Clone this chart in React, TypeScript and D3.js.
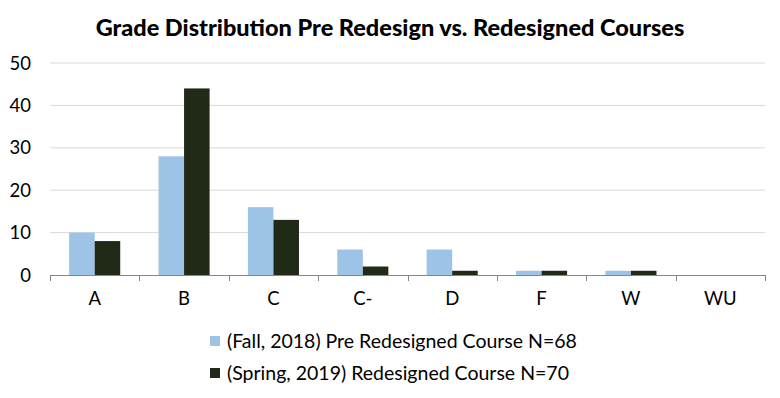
import React, { useRef, useEffect } from 'react';
import * as d3 from 'd3';

const grades = ['A', 'B', 'C', 'C-', 'D', 'F', 'W', 'WU'];
const preRedesign = [10, 28, 16, 6, 6, 1, 1, 0];
const redesigned = [8, 44, 13, 2, 1, 1, 1, 0];
const seriesNames = [
  '(Fall, 2018) Pre Redesigned Course N=68',
  '(Spring, 2019) Redesigned Course N=70',
];
const seriesColors = ['#9dc3e6', '#202a16'];
const yTicks = [0, 10, 20, 30, 40, 50];

const App = () => {
  const svgRef = useRef<SVGSVGElement>(null);

  useEffect(() => {
    const svg = d3.select(svgRef.current);
    svg.selectAll('*').remove();

    const W = 780, H = 398;
    const font = 'Lato, "Open Sans", sans-serif';
    const left = 50, right = 765, top = 63, bottom = 275;

    // chart frame
    svg.append('rect')
      .attr('x', 0.5).attr('y', 0.5)
      .attr('width', W - 2).attr('height', H - 2)
      .attr('rx', 8)
      .attr('fill', '#fff')
      .attr('stroke', '#8c8c8c');

    svg.append('text')
      .attr('x', 390).attr('y', 36)
      .attr('text-anchor', 'middle')
      .attr('font-family', font)
      .attr('font-weight', 900)
      .attr('font-size', 23.5)
      .text('Grade Distribution Pre Redesign vs. Redesigned Courses');

    const x = d3.scaleBand().domain(grades).range([left, right]);
    const y = d3.scaleLinear().domain([0, 50]).range([bottom, top]);
    const barW = x.bandwidth() / 3.5;  // excel gap width 150%

    // gridlines
    svg.append('g')
      .selectAll('line')
      .data(yTicks.filter(t => t > 0))
      .join('line')
      .attr('x1', left).attr('x2', right)
      .attr('y1', d => y(d)).attr('y2', d => y(d))
      .attr('stroke', '#d9d9d9');

    // y labels
    svg.append('g')
      .selectAll('text')
      .data(yTicks)
      .join('text')
      .attr('x', 31).attr('y', d => y(d) + 6.5)
      .attr('text-anchor', 'end')
      .attr('font-family', font)
      .attr('font-size', 18.5)
      .text(d => d);

    const data = [preRedesign, redesigned];
    data.forEach((vals, s) => {
      svg.append('g')
        .selectAll('rect')
        .data(vals)
        .join('rect')
        .attr('x', (d, i) => x(grades[i])! + barW * 0.75 + s * barW)
        .attr('y', d => y(d))
        .attr('width', barW)
        .attr('height', d => bottom - y(d))
        .attr('fill', seriesColors[s]);
    });

    // x axis line + ticks
    const axis = svg.append('g').attr('stroke', '#868686');
    axis.append('line')
      .attr('x1', left).attr('x2', right)
      .attr('y1', bottom + 0.5).attr('y2', bottom + 0.5);
    const bounds = grades.map(g => x(g)!).concat([right]);
    axis.selectAll('line.tick')
      .data(bounds)
      .join('line')
      .attr('class', 'tick')
      .attr('x1', d => Math.round(d) + 0.5).attr('x2', d => Math.round(d) + 0.5)
      .attr('y1', bottom).attr('y2', bottom + 6);

    svg.append('g')
      .selectAll('text')
      .data(grades)
      .join('text')
      .attr('x', d => x(d)! + x.bandwidth() / 2)
      .attr('y', 305)
      .attr('text-anchor', 'middle')
      .attr('font-family', font)
      .attr('font-size', 18.5)
      .text(d => d);

    // legend
    const legend = svg.append('g');
    seriesNames.forEach((name, i) => {
      const ly = 341 + i * 32;
      legend.append('rect')
        .attr('x', 210).attr('y', ly - 5)
        .attr('width', 10).attr('height', 10)
        .attr('fill', seriesColors[i]);
      legend.append('text')
        .attr('x', 227).attr('y', ly + 7)
        .attr('font-family', font)
        .attr('font-size', 19.5)
        .text(name);
    });
  }, []);

  return <svg ref={svgRef} width={780} height={398} style={{ display: 'block', margin: -8 }} />;
};

export default App;
